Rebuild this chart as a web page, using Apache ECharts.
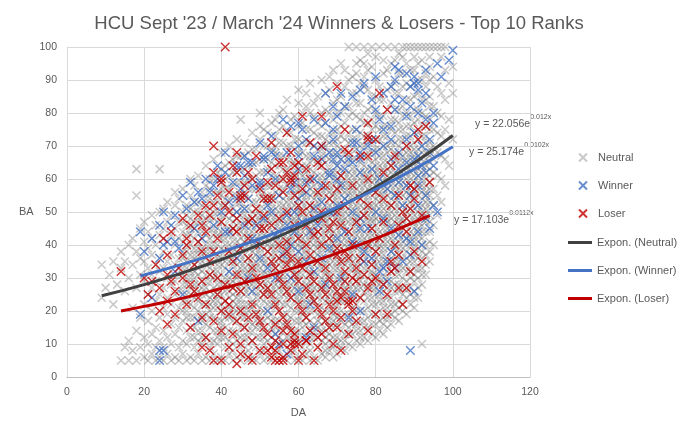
<!DOCTYPE html>
<html>
<head>
<meta charset="utf-8">
<script src="https://cdn.jsdelivr.net/npm/echarts@6/dist/echarts.min.js"></script>
<style>
html, body { margin: 0; padding: 0; background: #fff; }
#chart { width: 678px; height: 437px; }
</style>
</head>
<body>
<div id="chart"></div>
<script>
const seriesNames = ["Neutral", "Winner", "Loser"];
const trendNames = ["Expon. (Neutral)", "Expon. (Winner)", "Expon. (Loser)"];
const xTicks = [0, 20, 40, 60, 80, 100, 120];
const yTicks = [0, 10, 20, 30, 40, 50, 60, 70, 80, 90, 100];
const equations = [["y = 22.056e", "0.012x"], ["y = 25.174e", "0.0102x"], ["y = 17.103e", "0.0112x"]];

// neutral points, one row per DA value: [DA, [BA, ...]]
const neutralCols = [
    [9, [24, 34]], [10, [27]], [11, [31]], [12, [22, 35]], [13, [28]],
    [14, [5, 33, 38]], [15, [9, 26, 35]], [16, [5, 11, 30, 40]], [17, [8, 21, 34, 42]],
    [18, [5, 14, 27, 38, 55, 63]], [19, [9, 18, 31, 36, 45]],
    [20, [6, 12, 22, 29, 35, 41, 47]], [21, [5, 10, 17, 25, 33, 39, 44]],
    [22, [7, 13, 20, 27, 31, 37, 42, 49]], [23, [5, 9, 15, 23, 29, 34, 40, 46]],
    [24, [6, 11, 18, 25, 32, 36, 43, 50, 63]], [25, [5, 9, 14, 21, 27, 33, 38, 45, 51]],
    [26, [7, 12, 19, 24, 30, 35, 41, 47, 53]], [27, [5, 10, 16, 22, 28, 32, 37, 43, 49]],
    [28, [6, 13, 18, 25, 29, 34, 40, 45, 52, 56]], [29, [5, 9, 15, 21, 26, 31, 36, 42, 47, 54]],
    [30, [7, 11, 17, 23, 28, 33, 38, 44, 50, 57]], [31, [5, 10, 14, 20, 25, 30, 35, 40, 46, 52]],
    [32, [6, 12, 18, 22, 27, 32, 37, 43, 48, 55, 60]], [33, [5, 9, 15, 21, 26, 30, 34, 39, 45, 50, 58]],
    [34, [7, 11, 17, 23, 28, 33, 37, 41, 47, 53, 61]], [35, [5, 10, 14, 19, 25, 29, 35, 39, 44, 49, 56]],
    [36, [6, 12, 16, 22, 27, 31, 36, 40, 46, 51, 58, 64]], [37, [5, 9, 15, 20, 24, 29, 33, 38, 42, 48, 54, 60]],
    [38, [7, 11, 18, 23, 27, 32, 35, 40, 45, 50, 56, 66]], [39, [5, 10, 14, 21, 25, 30, 34, 37, 43, 47, 53, 62]],
    [40, [6, 12, 17, 22, 28, 31, 36, 39, 44, 49, 55, 59, 68]], [41, [5, 9, 15, 20, 26, 30, 33, 38, 42, 46, 52, 57, 64]],
    [42, [7, 11, 18, 24, 28, 32, 35, 40, 45, 48, 54, 61, 70]], [43, [5, 10, 14, 19, 23, 27, 31, 36, 39, 43, 47, 51, 58, 66]],
    [44, [6, 13, 17, 22, 26, 30, 34, 38, 41, 46, 50, 55, 62, 72]], [45, [5, 9, 15, 20, 24, 28, 33, 37, 40, 44, 49, 53, 59, 67, 78]],
    [46, [7, 12, 18, 22, 27, 31, 35, 39, 43, 47, 51, 56, 63, 71]], [47, [5, 10, 14, 20, 25, 29, 32, 36, 41, 45, 48, 54, 60, 68]],
    [48, [6, 11, 16, 23, 26, 30, 34, 38, 42, 46, 50, 57, 64, 74]], [49, [5, 9, 15, 19, 24, 28, 33, 37, 40, 44, 49, 53, 61, 69]],
    [50, [7, 12, 17, 21, 26, 30, 35, 39, 43, 47, 51, 56, 62, 72, 80]], [51, [5, 10, 14, 20, 25, 29, 32, 36, 41, 45, 48, 54, 59, 66, 75]],
    [52, [6, 11, 18, 22, 27, 31, 34, 38, 42, 46, 50, 55, 63, 70]], [53, [5, 9, 15, 19, 24, 28, 33, 37, 40, 44, 49, 53, 58, 65, 77]],
    [54, [7, 13, 17, 23, 26, 30, 35, 39, 43, 47, 51, 56, 61, 68, 73]], [55, [5, 10, 14, 20, 25, 29, 32, 36, 41, 45, 48, 52, 57, 64, 71, 80]],
    [56, [6, 11, 16, 22, 27, 31, 34, 38, 42, 46, 50, 54, 60, 67, 76]], [57, [5, 9, 15, 19, 24, 28, 33, 37, 40, 44, 49, 53, 58, 63, 70, 84]],
    [58, [7, 12, 18, 21, 26, 30, 35, 39, 43, 47, 51, 55, 61, 66, 74]], [59, [5, 10, 14, 20, 25, 29, 32, 36, 41, 45, 48, 52, 57, 62, 69, 79]],
    [60, [6, 11, 17, 23, 27, 31, 34, 38, 42, 46, 50, 54, 59, 65, 72, 87]], [61, [5, 9, 15, 19, 24, 28, 33, 37, 40, 44, 49, 53, 56, 61, 68, 77]],
    [62, [7, 13, 18, 22, 26, 30, 35, 39, 43, 47, 51, 55, 60, 64, 71, 82]], [63, [5, 10, 14, 20, 25, 29, 32, 36, 41, 45, 48, 52, 57, 63, 67, 75, 89]],
    [64, [6, 12, 16, 23, 27, 31, 34, 38, 42, 46, 50, 54, 58, 62, 70, 79]], [65, [5, 9, 15, 19, 24, 28, 33, 37, 40, 44, 49, 53, 56, 61, 66, 73, 85]],
    [66, [7, 11, 18, 21, 26, 30, 35, 39, 43, 47, 51, 55, 59, 64, 69, 76, 90]], [67, [6, 10, 14, 20, 25, 29, 32, 36, 41, 45, 48, 52, 57, 62, 67, 72, 81]],
    [68, [8, 13, 17, 23, 27, 31, 34, 38, 42, 46, 50, 54, 58, 63, 68, 74, 87]], [69, [6, 9, 15, 19, 24, 28, 33, 37, 40, 44, 49, 53, 56, 60, 65, 71, 78, 93]],
    [70, [7, 12, 18, 22, 26, 30, 35, 39, 43, 47, 51, 55, 59, 64, 70, 75, 84]], [71, [9, 14, 20, 25, 29, 32, 36, 41, 45, 48, 52, 57, 61, 66, 73, 80, 95]],
    [72, [8, 11, 16, 23, 27, 31, 34, 38, 42, 46, 50, 54, 58, 62, 68, 77, 88]], [73, [10, 15, 19, 24, 28, 33, 37, 40, 44, 49, 53, 56, 60, 65, 71, 82, 100]],
    [74, [9, 13, 18, 21, 26, 30, 35, 39, 43, 47, 51, 55, 59, 63, 69, 75, 91]], [75, [11, 16, 22, 25, 29, 32, 36, 41, 45, 48, 52, 57, 61, 66, 72, 79, 86, 95, 100]],
    [76, [10, 14, 20, 27, 31, 34, 38, 42, 46, 50, 54, 58, 62, 67, 74, 83, 96]], [77, [12, 17, 23, 28, 33, 37, 40, 44, 49, 53, 56, 60, 64, 70, 77, 88, 95, 100]],
    [78, [11, 15, 21, 26, 30, 35, 39, 43, 47, 51, 55, 59, 63, 68, 73, 81, 93]], [79, [13, 19, 24, 29, 32, 36, 41, 45, 48, 52, 57, 61, 65, 71, 78, 85, 100]],
    [80, [12, 16, 22, 27, 31, 34, 38, 42, 46, 50, 54, 58, 62, 66, 72, 80, 90, 97]], [81, [14, 20, 25, 28, 33, 37, 40, 44, 49, 53, 56, 60, 64, 69, 75, 84, 100]],
    [82, [13, 18, 23, 26, 30, 35, 39, 43, 47, 51, 55, 59, 63, 67, 73, 79, 92]], [83, [15, 21, 27, 32, 36, 41, 45, 48, 52, 57, 61, 65, 70, 76, 87, 100]],
    [84, [16, 19, 24, 29, 34, 38, 42, 46, 50, 54, 58, 62, 66, 71, 78, 83, 95]], [85, [18, 22, 26, 31, 37, 40, 44, 49, 53, 56, 60, 64, 68, 74, 81, 89, 100]],
    [86, [17, 23, 28, 33, 35, 39, 43, 47, 51, 55, 59, 63, 67, 72, 77, 86, 98]], [87, [20, 25, 30, 36, 41, 45, 48, 52, 57, 61, 65, 69, 75, 82, 92, 100]],
    [88, [19, 24, 29, 34, 38, 42, 46, 50, 54, 58, 62, 66, 70, 76, 84, 95, 100]], [89, [22, 27, 32, 37, 40, 44, 49, 53, 56, 60, 64, 68, 73, 79, 88, 100]],
    [90, [21, 26, 31, 35, 39, 43, 47, 51, 55, 59, 63, 67, 71, 77, 85, 93, 100]], [91, [24, 30, 36, 41, 45, 48, 52, 57, 61, 65, 69, 74, 81, 90, 100]],
    [92, [10, 28, 33, 38, 42, 46, 50, 54, 58, 62, 66, 70, 76, 84, 96, 100]], [93, [31, 37, 44, 49, 53, 56, 60, 64, 68, 73, 79, 88, 100]],
    [94, [35, 41, 47, 51, 55, 59, 63, 67, 71, 78, 85, 94, 100]], [95, [40, 46, 52, 57, 62, 66, 70, 75, 82, 91, 100]],
    [96, [49, 55, 61, 68, 74, 80, 88, 100]], [97, [53, 60, 67, 73, 79, 86, 97, 100]],
    [98, [58, 66, 75, 84, 93, 100]], [99, [64, 78, 89]], [100, [72, 86, 94]]
];

// extra neutral points in the dense core, even DA: [DA, [BA, ...]]
const neutralCore = [
    [30, [20, 26, 31, 36, 41, 47]], [32, [15, 25, 30, 35, 40, 45, 51]], [34, [14, 20, 26, 31, 35, 39, 44, 50]],
    [36, [19, 25, 29, 34, 38, 43, 48, 54]], [38, [14, 21, 25, 30, 38, 43, 48, 53, 60]], [40, [15, 20, 25, 34, 42, 47, 52, 57, 63]],
    [42, [14, 21, 26, 30, 38, 43, 51, 57, 65]], [44, [11, 20, 24, 28, 32, 36, 44, 48, 53, 59, 67]],
    [46, [15, 20, 25, 29, 33, 37, 41, 45, 49, 54, 59, 67]], [48, [14, 19, 21, 28, 32, 36, 40, 44, 48, 53, 60, 69]],
    [50, [15, 19, 24, 28, 33, 37, 41, 45, 49, 54, 59, 66, 76]], [52, [14, 20, 25, 29, 36, 40, 44, 48, 53, 58, 66, 74]],
    [54, [11, 15, 21, 28, 33, 37, 41, 45, 49, 54, 59, 64, 70, 78]], [56, [14, 19, 25, 29, 36, 40, 44, 48, 52, 57, 63, 71, 81]],
    [58, [10, 15, 24, 28, 33, 37, 41, 45, 49, 53, 58, 64, 70, 78]], [60, [14, 20, 25, 29, 36, 40, 44, 48, 52, 57, 62, 68, 76, 83]],
    [62, [11, 16, 20, 24, 28, 33, 37, 41, 45, 49, 53, 58, 62, 67, 75, 86]], [64, [14, 20, 25, 29, 36, 40, 44, 48, 52, 56, 60, 66, 74, 83]],
    [66, [14, 16, 24, 28, 33, 37, 41, 45, 49, 53, 57, 61, 67, 73, 80]], [68, [11, 15, 20, 25, 29, 36, 40, 44, 48, 52, 56, 61, 66, 71, 80, 91]],
    [70, [10, 16, 20, 24, 28, 33, 37, 41, 45, 49, 53, 57, 62, 67, 72, 80, 89]], [72, [13, 19, 25, 29, 36, 40, 44, 48, 52, 56, 60, 65, 72, 82, 93]],
    [74, [16, 24, 28, 33, 37, 41, 45, 49, 53, 57, 61, 66, 72, 80, 86]], [76, [12, 17, 24, 29, 36, 40, 44, 48, 52, 56, 60, 65, 70, 78, 89]],
    [78, [18, 24, 28, 33, 37, 41, 45, 49, 53, 57, 61, 66, 71, 77, 87, 98]], [80, [19, 25, 29, 36, 40, 44, 48, 52, 56, 60, 64, 69, 76, 85]],
    [82, [16, 21, 28, 33, 37, 41, 45, 49, 53, 57, 61, 65, 70, 76, 84, 96]], [84, [22, 27, 32, 36, 40, 44, 48, 52, 56, 60, 64, 69, 75, 88]],
    [86, [21, 26, 31, 37, 41, 45, 49, 53, 57, 61, 65, 70, 75, 81, 92]], [88, [27, 32, 36, 40, 44, 48, 52, 56, 60, 64, 68, 73, 80, 89]],
    [90, [24, 29, 33, 37, 41, 45, 49, 53, 57, 61, 65, 69, 74, 81, 89, 97]], [92, [31, 36, 40, 44, 48, 52, 56, 60, 64, 68, 73, 80, 90]],
    [94, [38, 44, 49, 53, 57, 61, 65, 69, 75, 82, 90, 97]]
];

// extra neutral points in the dense core, odd DA: [DA, [BA, ...]]
const neutralCoreOdd = [
    [31, [18, 23, 28, 33, 38, 43, 49]], [33, [12, 18, 24, 28, 32, 37, 42, 47, 53]], [35, [12, 17, 22, 27, 32, 37, 42, 47, 52]],
    [37, [11, 18, 22, 26, 31, 36, 40, 45, 51, 57]], [39, [12, 17, 23, 28, 32, 36, 40, 45, 50, 56]],
    [41, [12, 18, 23, 28, 35, 40, 44, 49, 54, 60]], [43, [8, 17, 21, 25, 29, 34, 38, 41, 45, 49, 55, 62]],
    [45, [12, 18, 22, 26, 31, 35, 39, 42, 46, 51, 56, 63]], [47, [8, 12, 17, 22, 27, 31, 34, 39, 43, 47, 51, 57, 64]],
    [49, [12, 17, 22, 26, 31, 35, 39, 42, 47, 51, 57, 65]], [51, [8, 12, 17, 23, 27, 31, 34, 39, 43, 47, 51, 56, 62, 70]],
    [53, [12, 17, 22, 26, 31, 35, 39, 42, 47, 51, 55, 61, 69]], [55, [8, 12, 17, 23, 27, 31, 34, 39, 43, 47, 50, 55, 60, 67, 75]],
    [57, [12, 17, 22, 26, 31, 35, 39, 42, 47, 51, 55, 61, 66, 74]], [59, [8, 12, 17, 23, 27, 31, 34, 39, 43, 47, 50, 55, 60, 65, 72]],
    [61, [12, 17, 22, 26, 31, 35, 39, 42, 47, 51, 55, 59, 64, 71, 80]], [63, [8, 12, 17, 23, 27, 31, 34, 39, 43, 47, 50, 55, 60, 65, 71, 80]],
    [65, [12, 17, 22, 26, 31, 35, 39, 42, 47, 51, 55, 59, 64, 69, 77]], [67, [8, 12, 17, 23, 27, 31, 34, 39, 43, 47, 50, 55, 60, 65, 70, 77, 86]],
    [69, [12, 17, 22, 26, 31, 35, 39, 42, 47, 51, 55, 58, 62, 68, 74, 83]], [71, [11, 17, 23, 27, 31, 34, 39, 43, 47, 50, 55, 59, 63, 69, 76, 85]],
    [73, [13, 17, 22, 26, 31, 35, 39, 42, 47, 51, 55, 58, 62, 67, 74, 79, 90]], [75, [14, 20, 27, 31, 34, 39, 43, 47, 50, 55, 59, 63, 69, 75, 83, 92]],
    [77, [15, 20, 26, 31, 35, 39, 42, 47, 51, 55, 58, 62, 67, 73, 80, 91]], [79, [16, 22, 27, 31, 34, 39, 43, 47, 50, 55, 59, 63, 68, 75, 82, 94]],
    [81, [17, 23, 30, 35, 39, 42, 47, 51, 55, 58, 62, 67, 72, 79, 88]], [83, [18, 24, 30, 34, 39, 43, 47, 50, 55, 59, 63, 68, 73, 81, 93]],
    [85, [20, 28, 35, 39, 42, 47, 51, 55, 58, 62, 66, 71, 78, 86, 96]], [87, [22, 27, 33, 39, 43, 47, 50, 55, 59, 63, 67, 72, 79, 88, 97]],
    [89, [25, 30, 35, 42, 47, 51, 55, 58, 62, 66, 70, 76, 84, 93]], [91, [27, 33, 39, 43, 47, 50, 55, 59, 63, 67, 72, 78, 86, 95]],
    [93, [34, 40, 47, 51, 55, 58, 62, 66, 71, 76, 84, 92]]
];

// winner points [DA, BA]
const winnerPoints = [
    [100, 99], [99, 96], [97, 91], [85, 94], [86, 93], [88, 92], [90, 91], [90, 89], [91, 89], [89, 88], [91, 87], [92, 83], [93, 86],
    [80, 91], [77, 89], [85, 90], [85, 84], [81, 78], [80, 81], [85, 81], [88, 79], [95, 80], [95, 77], [93, 78], [67, 86], [71, 86],
    [69, 82], [67, 77], [69, 75], [61, 75], [60, 77], [75, 75], [82, 75], [84, 76], [79, 72], [84, 72], [74, 71], [69, 72], [64, 70],
    [60, 70], [73, 66], [76, 66], [76, 62], [69, 66], [70, 64], [66, 66], [91, 67], [93, 62], [91, 61], [88, 58], [86, 59],
    [53, 73], [32, 59], [38, 58], [45, 64], [48, 65], [46, 61], [51, 67], [54, 67], [50, 58], [35, 54], [33, 53],
    [25, 50], [19, 44], [24, 46], [25, 40], [26, 41], [28, 41], [24, 36], [22, 24], [19, 19], [24, 8], [25, 8], [24, 5], [31, 51],
    [41, 44], [42, 44], [29, 39], [34, 17], [54, 13], [89, 8], [90, 26], [76, 20], [81, 26], [64, 15], [57, 7], [84, 38], [83, 35],
    [85, 33], [82, 33], [89, 41], [88, 42], [91, 44], [91, 52], [77, 35], [75, 40], [76, 45],
    [47, 65], [51, 66], [53, 68], [60, 67], [64, 67], [68, 68], [71, 66], [44, 64], [50, 59], [54, 60], [59, 59], [62, 59], [68, 61],
    [71, 58], [44, 54], [46, 51], [52, 52], [57, 49], [64, 51], [69, 50], [59, 44], [54, 43], [49, 40],
    [55, 55], [58, 57], [60, 54], [62, 56], [64, 60], [66, 58], [68, 62], [70, 60], [72, 63], [74, 65], [76, 68], [78, 70], [80, 68],
    [82, 70], [84, 66], [86, 68], [88, 72], [90, 74], [92, 70], [94, 72], [86, 63], [88, 65], [90, 66], [92, 64], [94, 68], [95, 64],
    [79, 63], [81, 60], [83, 57], [85, 55], [87, 52], [89, 55], [91, 58], [93, 55], [95, 52], [80, 50], [82, 48], [84, 45], [86, 43],
    [78, 45], [76, 48], [74, 50], [72, 54], [70, 52], [68, 50], [66, 53], [65, 46], [63, 44], [61, 47], [59, 50], [57, 46], [55, 44],
    [53, 50], [51, 48], [49, 46], [47, 54], [45, 57], [43, 59], [41, 62], [39, 60], [37, 56], [36, 60], [34, 56], [30, 55], [28, 49],
    [27, 46], [22, 42], [20, 38], [33, 45], [35, 42], [38, 46], [40, 50], [42, 53], [44, 50], [46, 46], [48, 42], [50, 36], [52, 33],
    [54, 30], [56, 37], [58, 40], [60, 38], [62, 35], [64, 32], [66, 36], [68, 39], [70, 42], [72, 44], [74, 41], [77, 38], [79, 36],
    [81, 32], [83, 29], [87, 35], [89, 37], [92, 40], [94, 45], [96, 50], [93, 48], [58, 30], [60, 26], [47, 30], [44, 36], [42, 32],
    [30, 25], [28, 32], [63, 22], [67, 28], [71, 30], [52, 20], [48, 26], [74, 25], [73, 18], [62, 12], [55, 10], [66, 70], [62, 72],
    [58, 76], [56, 78], [64, 78], [70, 79], [72, 82], [74, 85], [76, 87], [79, 84], [82, 86], [84, 88], [87, 84], [89, 82], [91, 80],
    [93, 93], [96, 95], [70, 68], [75, 71], [60, 63], [57, 68], [52, 62], [48, 58], [46, 67], [50, 71], [41, 68], [39, 64]
];

// loser points [DA, BA]
const loserPoints = [
    [41, 100], [38, 70], [43, 64], [40, 60], [40, 59], [45, 55], [46, 55], [38, 52], [41, 52], [57, 74], [56, 65], [52, 59], [53, 54],
    [53, 71], [70, 88], [81, 86], [83, 81], [61, 79], [66, 79], [78, 77], [78, 73], [78, 72], [80, 72], [72, 75], [63, 71], [66, 70],
    [72, 69], [73, 68], [76, 67], [78, 67], [88, 70], [91, 75], [93, 76], [91, 72], [85, 67], [58, 68], [55, 65], [59, 64], [66, 64],
    [71, 61], [89, 58], [90, 57], [58, 60], [59, 61], [78, 52],
    [14, 32], [27, 44], [31, 42], [31, 40], [26, 37], [30, 37], [34, 41], [35, 38], [37, 31], [32, 28], [24, 20], [26, 16], [31, 22],
    [35, 18], [35, 9], [38, 5], [40, 5], [45, 10], [45, 7], [47, 6], [34, 24], [41, 28], [39, 30], [40, 20], [38, 17], [41, 23], [42, 22],
    [92, 49], [85, 40], [84, 35], [85, 33], [84, 32], [88, 27], [86, 27], [83, 25], [87, 22], [80, 19], [83, 19], [78, 27], [75, 29],
    [73, 23], [73, 22], [74, 23], [70, 15], [65, 12], [62, 11], [59, 11], [60, 5], [71, 24], [70, 23], [72, 26], [79, 29], [87, 50],
    [89, 51], [72, 38], [70, 37],
    [65, 65], [56, 60], [58, 59], [45, 54], [51, 54], [52, 54], [65, 56], [70, 57], [60, 52], [48, 48], [47, 47], [50, 45], [51, 45],
    [43, 45], [44, 44], [59, 46], [66, 48], [57, 41], [68, 45], [64, 43],
    [48, 5], [52, 8], [53, 9], [54, 8], [54, 5], [55, 5], [56, 5], [56, 6], [56, 10], [58, 10], [59, 10], [60, 10], [62, 11], [54, 11],
    [50, 40], [52, 38], [53, 35], [54, 33], [55, 30], [56, 28], [57, 26], [58, 24], [60, 22], [61, 20], [62, 18], [55, 36], [57, 34],
    [59, 31], [60, 29], [62, 27], [63, 25], [64, 23], [65, 21], [66, 19], [55, 40], [57, 38], [58, 36], [60, 35], [61, 33], [63, 31],
    [64, 29], [66, 27], [67, 25], [68, 22], [52, 27], [53, 25], [54, 22], [55, 20], [56, 18], [57, 16], [58, 14], [59, 13], [54, 16],
    [56, 14], [48, 33], [49, 30], [50, 28], [51, 25], [47, 36], [46, 29], [45, 26], [44, 31], [43, 35], [42, 38], [48, 22], [49, 19],
    [50, 17], [51, 15], [52, 13], [47, 18], [46, 15], [45, 20], [44, 17], [43, 13], [60, 42], [62, 40], [63, 37], [65, 35], [67, 33],
    [68, 30], [69, 28], [70, 26], [66, 40], [68, 42], [70, 39], [71, 35], [72, 32], [74, 30], [62, 46], [64, 48], [66, 50], [61, 50],
    [63, 52], [57, 50], [55, 48], [53, 46], [51, 49], [49, 51], [47, 42], [45, 39], [44, 48], [42, 50], [40, 47], [39, 42], [38, 38],
    [37, 35], [36, 44], [39, 55], [37, 49], [35, 46], [33, 34], [30, 30], [28, 26], [29, 33], [27, 29], [26, 23], [28, 19], [32, 15],
    [36, 12], [42, 9], [48, 11], [50, 8], [53, 6], [63, 14], [65, 9], [67, 17], [69, 20], [71, 18], [73, 13], [75, 17], [76, 24],
    [77, 31], [79, 34], [80, 38], [81, 42], [76, 36], [74, 40], [73, 44], [75, 47], [77, 49], [79, 45], [82, 47], [84, 52], [86, 55],
    [80, 56], [76, 54], [72, 52], [70, 50], [68, 54], [74, 58], [78, 60], [82, 62], [84, 64], [86, 46], [88, 44], [90, 38], [92, 35],
    [89, 32], [71, 46], [67, 58], [63, 60], [61, 57], [59, 55], [56, 56], [54, 58], [50, 57], [48, 60], [46, 58], [44, 62], [42, 56],
    [38, 62], [36, 52], [34, 49], [32, 46], [30, 48], [25, 42], [23, 34], [22, 29], [20, 30], [21, 25], [24, 27], [26, 31], [33, 26],
    [35, 29], [36, 22], [39, 25], [43, 27], [42, 19], [40, 14], [37, 8], [44, 4], [58, 8], [61, 7], [64, 5], [66, 13], [69, 10],
    [71, 8], [78, 14], [74, 20], [68, 15], [72, 29], [65, 44], [69, 47], [73, 36], [75, 33], [78, 40], [80, 30], [82, 28], [86, 37],
    [88, 48], [90, 54], [94, 59], [82, 54], [62, 63], [57, 62], [60, 65], [53, 63], [49, 67], [47, 62], [44, 68]
];

// trendline points [DA, BA]
const neutralTrend = [[9, 24.6], [20, 28], [30, 31.6], [40, 35.6], [50, 40.2], [60, 45.3], [70, 51.1], [80, 57.6], [90, 64.9], [100, 73.2]];
const winnerTrend = [[19, 30.6], [30, 34.2], [40, 37.9], [50, 41.9], [60, 46.4], [70, 51.4], [80, 56.9], [90, 63], [100, 69.8]];
const loserTrend = [[14, 20], [20, 21.4], [30, 23.9], [40, 26.8], [50, 29.9], [60, 33.5], [70, 37.5], [80, 41.9], [90, 46.9], [94, 48.9]];

const neutralPoints = [];
neutralCols.concat(neutralCore, neutralCoreOdd).forEach(([da, bas]) => {
    bas.forEach(ba => neutralPoints.push([da, ba]));
});

const font = "Liberation Sans, Arial, sans-serif";
const textColor = "#595959";
const cross = "path://M0,0L10,10M10,0L0,10";

function scatter(name, data, color, size, width) {
    return {
        name,
        type: "scatter",
        data,
        symbol: cross,
        symbolSize: size,
        large: false,
        progressive: 0,
        itemStyle: {
            color: color,
            borderColor: color,
            borderWidth: width
        },
        emphasis: { disabled: true },
        silent: true
    };
}

function trend(name, data, color) {
    return {
        name,
        type: "line",
        data,
        smooth: true,
        showSymbol: false,
        lineStyle: { color, width: 3 },
        itemStyle: { color },
        silent: true,
        z: 5
    };
}

let chart = echarts.init(document.getElementById("chart"));

let options = {
    animation: false,
    textStyle: { fontFamily: font },
    title: {
        text: "HCU Sept '23 / March '24 Winners & Losers - Top 10 Ranks",
        left: "center",
        top: 9,
        textStyle: {
            fontFamily: font,
            fontSize: 18.5,
            fontWeight: "normal",
            color: textColor
        }
    },
    grid: {
        left: 67,
        right: 148,
        top: 47,
        bottom: 60
    },
    legend: [
        {
            orient: "vertical",
            left: 573,
            top: 147,
            itemWidth: 8,
            itemHeight: 8,
            itemGap: 17,
            data: seriesNames.map(n => ({ name: n, icon: cross })),
            formatter: "{a|{name}}",
            textStyle: {
                rich: {
                    a: { fontFamily: font, fontSize: 11, color: textColor, lineHeight: 14, padding: [0, 0, 0, 6] }
                }
            },
            selectedMode: false
        },
        {
            orient: "vertical",
            left: 563,
            top: 232,
            itemWidth: 24,
            itemHeight: 3,
            itemGap: 17,
            data: trendNames.map(n => ({ name: n, icon: "rect" })),
            formatter: "{a|{name}}",
            textStyle: {
                rich: {
                    a: { fontFamily: font, fontSize: 11, color: textColor, lineHeight: 14 }
                }
            },
            selectedMode: false
        }
    ],
    xAxis: {
        type: "value",
        min: xTicks[0],
        max: xTicks[xTicks.length - 1],
        interval: xTicks[1] - xTicks[0],
        name: "DA",
        nameLocation: "middle",
        nameGap: 30,
        nameTextStyle: { fontFamily: font, fontSize: 11, color: textColor },
        axisLine: { show: true, lineStyle: { color: "#bfbfbf", width: 1 } },
        axisTick: { show: false },
        axisLabel: { fontFamily: font, fontSize: 10.5, color: textColor, margin: 10 },
        splitLine: { show: true, lineStyle: { color: "#d9d9d9", width: 1 } }
    },
    yAxis: {
        type: "value",
        min: yTicks[0],
        max: yTicks[yTicks.length - 1],
        interval: yTicks[1] - yTicks[0],
        name: "BA",
        nameLocation: "middle",
        nameRotate: 0,
        nameGap: 31,
        nameTextStyle: { fontFamily: font, fontSize: 11, color: textColor },
        axisLine: { show: false },
        axisTick: { show: false },
        axisLabel: { fontFamily: font, fontSize: 10.5, color: textColor, margin: 10 },
        splitLine: { show: true, lineStyle: { color: "#d9d9d9", width: 1 } }
    },
    series: [
        scatter(seriesNames[0], neutralPoints, "rgba(120,120,120,0.5)", 8, 1.5),
        scatter(seriesNames[1], winnerPoints, "#4472c4", 8.5, 1.4),
        scatter(seriesNames[2], loserPoints, "#c00000", 8.5, 1.4),
        trend(trendNames[0], neutralTrend, "#404040"),
        trend(trendNames[1], winnerTrend, "#4472c4"),
        trend(trendNames[2], loserTrend, "#c00000")
    ],
    graphic: [
        [475, 114], [469, 142], [454, 210]
    ].map(([x, y], i) => ({
        type: "text",
        left: x,
        top: y,
        silent: true,
        style: {
            text: "{a|" + equations[i][0] + "}{b|" + equations[i][1] + "}",
            rich: {
                a: { fontFamily: font, fontSize: 10.5, fill: textColor, lineHeight: 16, verticalAlign: "bottom" },
                b: { fontFamily: font, fontSize: 7, fill: textColor, lineHeight: 10, verticalAlign: "top" }
            }
        }
    }))
};
chart.setOption(options);
</script>
</body>
</html>
